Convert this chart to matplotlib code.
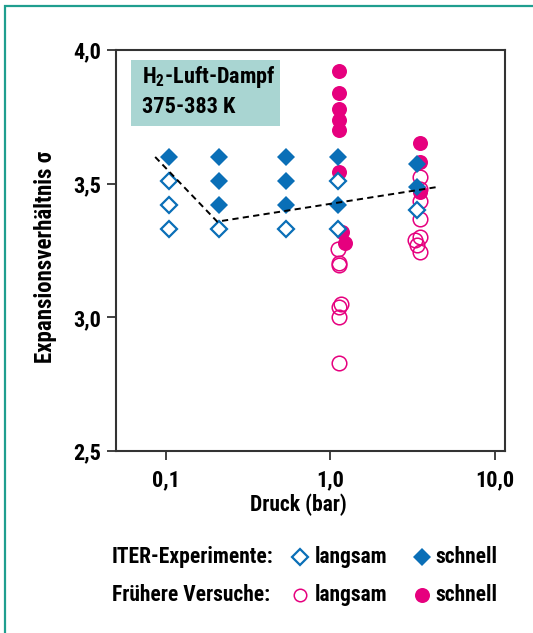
import matplotlib
matplotlib.use("Agg")
import matplotlib.pyplot as plt
from matplotlib.lines import Line2D
from matplotlib.patches import Rectangle

plt.rcParams["font.family"] = ["Roboto Condensed", "Liberation Sans Narrow", "Liberation Sans", "DejaVu Sans"]
plt.rcParams["font.stretch"] = "condensed"
plt.rcParams["font.weight"] = "bold"
plt.rcParams["axes.labelweight"] = "bold"
plt.rcParams["mathtext.fontset"] = "custom"
plt.rcParams["mathtext.rm"] = "Liberation Sans:bold"

# ITER experiments (pressure in bar, expansion ratio sigma)
iter_slow_p = [0.105, 0.105, 0.105, 0.21, 0.54, 1.11, 1.11, 3.38]
iter_slow_s = [3.51, 3.42, 3.33, 3.33, 3.33, 3.51, 3.33, 3.40]
iter_fast_p = [0.105, 0.21, 0.21, 0.21, 0.54, 0.54, 0.54, 1.11, 1.11, 3.38, 3.38]
iter_fast_s = [3.60, 3.60, 3.51, 3.42, 3.60, 3.51, 3.42, 3.60, 3.42, 3.575, 3.489]

# earlier tests
old_slow_p = [1.11, 1.12, 1.12, 1.16, 1.12, 1.12, 1.12,
              3.52, 3.52, 3.52, 3.52, 3.52, 3.28, 3.36, 3.52]
old_slow_s = [3.255, 3.205, 3.195, 3.05, 3.037, 3.002, 2.828,
              3.525, 3.48, 3.435, 3.367, 3.30, 3.289, 3.27, 3.245]
old_fast_p = [1.12, 1.12, 1.12, 1.12, 1.12, 1.12, 1.18, 1.22, 3.5, 3.5, 3.5]
old_fast_s = [3.92, 3.84, 3.78, 3.74, 3.70, 3.545, 3.32, 3.277, 3.651, 3.582, 3.47]

# dashed trend line
trend_p = [0.086, 0.205, 4.4]
trend_s = [3.60, 3.358, 3.487]

blue = "#0a6fb7"
pink = "#e6007e"
fs = 15.5

fig = plt.figure(figsize=(5.33, 6.33), dpi=100)
ax = fig.add_axes([0.2176, 0.2875, 0.7298, 0.6335])

ax.plot(old_slow_p, old_slow_s, "o", ms=10.5, mfc="none", mec=pink, mew=1.1, zorder=3)
ax.plot(old_fast_p, old_fast_s, "o", ms=10.8, mfc=pink, mec=pink, mew=0, zorder=4)
ax.plot(iter_slow_p, iter_slow_s, "D", ms=8.3, mfc="white", mec=blue, mew=1.6, zorder=5)
ax.plot(iter_fast_p, iter_fast_s, "D", ms=8.8, mfc=blue, mec=blue, mew=0, zorder=6)
ax.plot(trend_p, trend_s, color="black", lw=1.4, ls=(0, (3.2, 2.2)), zorder=7)

ax.set_xscale("log")
ax.set_xlim(0.0497, 11.5)
ax.set_ylim(2.5, 4.0)
ax.set_xticks([0.1, 1.0, 10.0])
ax.set_xticklabels(["0,1", "1,0", "10,0"])
ax.xaxis.set_minor_locator(matplotlib.ticker.NullLocator())
ax.set_yticks([2.5, 3.0, 3.5, 4.0])
ax.set_yticklabels(["2,5", "3,0", "3,5", "4,0"])
ax.tick_params(length=6.5, width=1.3, color="#333333", labelsize=fs + 0.5)
ax.tick_params(axis="x", pad=7)
ax.tick_params(axis="y", pad=4)
for sp in ax.spines.values():
    sp.set_linewidth(1.5)
    sp.set_color("#333333")

ax.set_xlabel("Druck (bar)", fontsize=fs)
ax.xaxis.set_label_coords(0.469, -0.107)
ax.set_ylabel("Expansionsverhältnis σ", fontsize=fs + 1)
ax.yaxis.set_label_coords(-0.152, 0.485)

ax.add_patch(Rectangle((0.0386, 0.811), 0.383, 0.164, transform=ax.transAxes,
                       facecolor="#a9d5d2", edgecolor="none", zorder=8))
ax.text(0.066, 0.932, r"H$_\mathregular{2}$-Luft-Dampf", transform=ax.transAxes,
        fontsize=16, va="center", ha="left", zorder=9)
ax.text(0.066, 0.859, "375-383 K", transform=ax.transAxes,
        fontsize=16, va="center", ha="left", zorder=9)

# legend, built by hand
fig.text(0.21, 0.1205, "ITER-Experimente:", fontsize=fs, va="center")
fig.text(0.21, 0.060, "Frühere Versuche:", fontsize=fs, va="center")
fig.add_artist(Line2D([0.563], [0.1205], marker="D", ms=8.3, mfc="white", mec=blue, mew=1.6))
fig.add_artist(Line2D([0.791], [0.1205], marker="D", ms=8.8, mfc=blue, mec=blue, mew=0))
fig.add_artist(Line2D([0.563], [0.060], marker="o", ms=9, mfc="none", mec=pink, mew=1.1))
fig.add_artist(Line2D([0.791], [0.060], marker="o", ms=10.8, mfc=pink, mec=pink, mew=0))
for yy in [0.1205, 0.060]:
    fig.text(0.591, yy, "langsam", fontsize=fs, va="center")
    fig.text(0.816, yy, "schnell", fontsize=fs, va="center")

# teal frame round the figure (only left and top edges visible)
fig.add_artist(Rectangle((0.0094, -0.1), 1.2, 1.1 - 0.0095, transform=fig.transFigure,
                         fill=False, edgecolor="#1f9e8f", lw=1.6))

fig.savefig("out.png", dpi=100)
